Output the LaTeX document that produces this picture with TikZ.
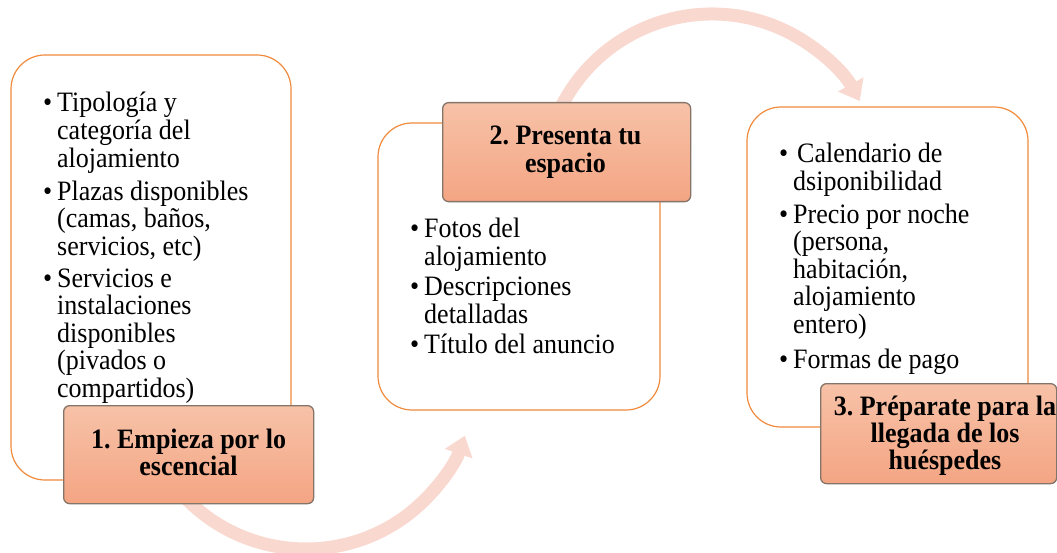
\documentclass[tikz,border=0pt]{standalone}
\usepackage{fontspec}
\setmainfont{Liberation Serif}
\usetikzlibrary{arrows.meta}
\frenchspacing
\definecolor{boxline}{HTML}{F08A3C}
\definecolor{titletop}{HTML}{F7C2A8}
\definecolor{titlebot}{HTML}{F4A583}
\definecolor{titleline}{HTML}{857468}
\definecolor{arrowcol}{HTML}{F9D9CF}
\tikzset{
  bigbox/.style={draw=boxline, line width=1.2pt, fill=white, rounded corners=34pt},
  titlebox/.style={draw=titleline, line width=1.3pt, rounded corners=6pt, top color=titletop, bottom color=titlebot},
  listtext/.style={inner sep=0pt, anchor=base west},
  titletext/.style={inner sep=0pt, anchor=base},
  cyclearrow/.style={draw=arrowcol, line width=13pt, -{Triangle[width=28pt,length=19pt]}}
}
\newcommand{\bul}{\makebox[14pt][l]{•}}
\newcommand{\tall}[1]{\scalebox{1}[1.08]{#1}}
\begin{document}
\begin{tikzpicture}[x=1pt,y=1pt]
\useasboundingbox (0,0) rectangle (1057,-553);
% cycle arrows
\coordinate (c1) at (306,-381);
\coordinate (c2) at (712,-183);
\draw[cyclearrow] (c1) ++(222:168) arc[start angle=222, end angle=341, radius=168];
\draw[cyclearrow] (c2) ++(153:169) arc[start angle=153, end angle=29, radius=169];
% big boxes
\draw[bigbox] (11,-55) rectangle (291,-480);
\draw[bigbox] (378,-123) rectangle (660,-410);
\draw[bigbox] (747,-107) rectangle (1028,-427);
% title boxes
\node[titlebox, minimum width=250pt, minimum height=98pt, anchor=north west, inner sep=0pt] (t1) at (63,-405) {};
\node[titlebox, minimum width=248pt, minimum height=99pt, anchor=north west, inner sep=0pt] (t2) at (442,-102) {};
\node[titlebox, minimum width=236pt, minimum height=100pt, anchor=north west, inner sep=0pt] (t3) at (820,-383) {};
% list texts
\node[listtext] (l1) at (43,-112) {\tall{\fontsize{26}{24.8}\selectfont\begin{tabular}[t]{@{}l@{}l@{}}
\bul & Tipología y\\
 & categoría del\\
 & alojamiento\\[5.1pt]
\bul & Plazas disponibles\\
 & (camas, baños,\\
 & servicios, etc)\\[5.1pt]
\bul & Servicios e\\
 & instalaciones\\
 & disponibles\\
 & (pivados o\\
 & compartidos)
\end{tabular}}};
\node[listtext] (l2) at (410,-238) {\tall{\fontsize{26}{25.5}\selectfont\begin{tabular}[t]{@{}l@{}l@{}}
\bul & Fotos del\\
 & alojamiento\\[2pt]
\bul & Descripciones\\
 & detalladas\\[2pt]
\bul & Título del anuncio
\end{tabular}}};
\node[listtext] (l3) at (779,-163) {\tall{\fontsize{26}{24.6}\selectfont\begin{tabular}[t]{@{}l@{}l@{}}
\bul & \hspace{4pt}Calendario de\\
 & dsiponibilidad\\[5.1pt]
\bul & Precio por noche\\
 & (persona,\\
 & habitación,\\
 & alojamiento\\
 & entero)\\[7.4pt]
\bul & Formas de pago
\end{tabular}}};
% title texts
\node[titletext] (tt1) at (188.5,-448) {\tall{\fontsize{26}{25}\selectfont\bfseries\begin{tabular}[t]{@{}c@{}}1. Empieza por lo\\ escencial\end{tabular}}};
\node[titletext] (tt2) at (565.5,-145) {\tall{\fontsize{26}{25}\selectfont\bfseries\begin{tabular}[t]{@{}c@{}}2. Presenta tu\\ espacio\end{tabular}}};
\node[titletext] (tt3) at (945,-415) {\tall{\fontsize{26}{24.6}\selectfont\bfseries\begin{tabular}[t]{@{}c@{}}3. Préparate para la\\ llegada de los\\ huéspedes\end{tabular}}};
\end{tikzpicture}
\end{document}
